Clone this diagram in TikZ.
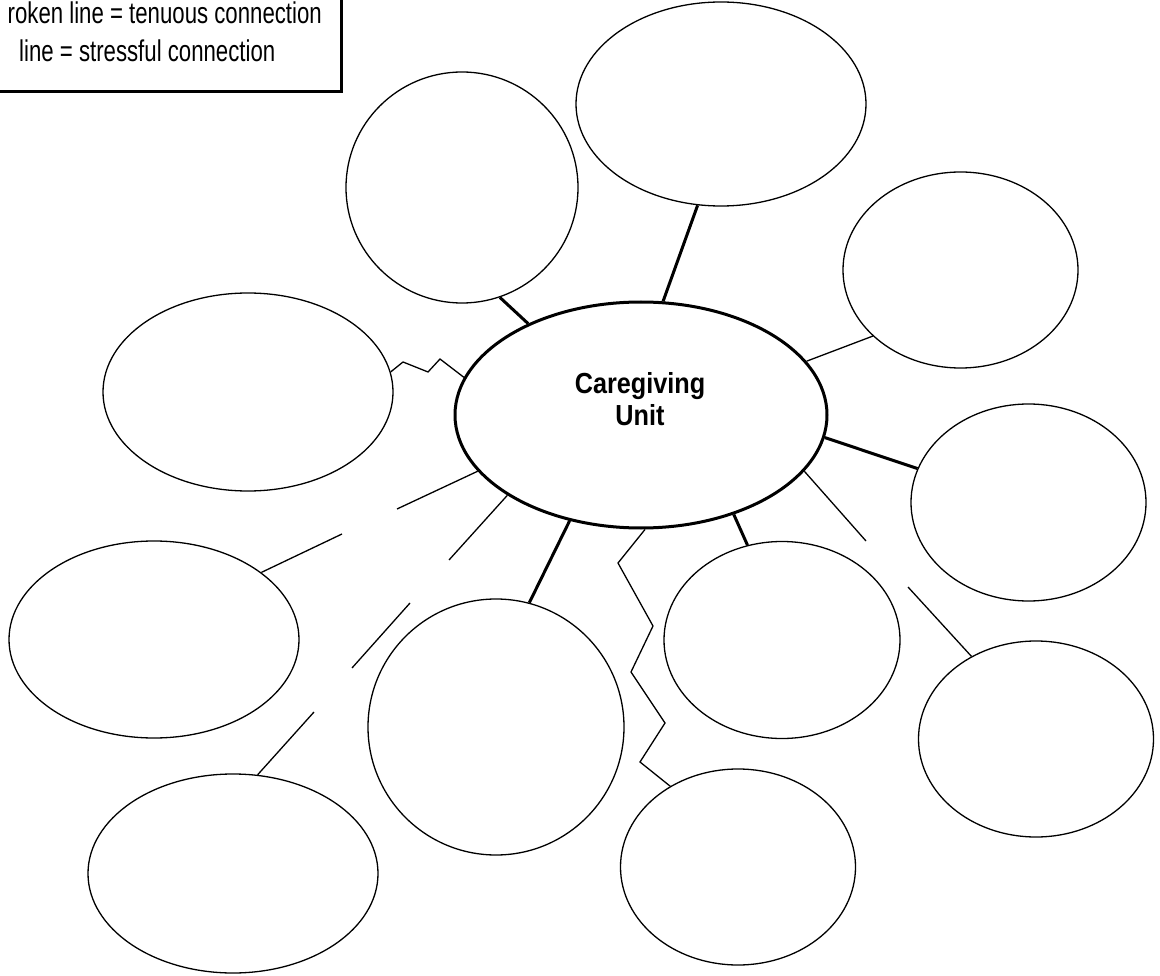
\documentclass[tikz,border=0pt]{standalone}
\usepackage{fontspec}
\setmainfont{Liberation Sans}
\newfontfamily\legendfont{Liberation Sans}[FakeStretch=0.74]
\newfontfamily\unitfont{Liberation Sans}[FakeStretch=0.87]
\usetikzlibrary{shapes.geometric}
\tikzset{
  bubble/.style={draw=black, ellipse, line width=1.3pt, inner sep=0pt, fill=white},
  thinlink/.style={draw=black, line width=1.3pt, line join=miter},
  thicklink/.style={draw=black, line width=3pt},
  legendtext/.style={inner sep=0pt, font=\legendfont\fontsize{30}{36}\selectfont},
}
\begin{document}
\begin{tikzpicture}[x=1pt,y=-1pt]
\useasboundingbox (0,0) rectangle (1160,976);
\clip (0,0) rectangle (1160,976);
% legend
\draw[line width=3pt] (-30,-30) rectangle (341.5,91.5);
\node[legendtext, anchor=base east] (leg1) at (322,24) {roken line = tenuous connection};
\node[legendtext, anchor=base west] (leg2) at (19,62) {line = stressful connection};
% bubbles
\node[bubble, line width=3pt, minimum width=372pt, minimum height=226pt] (C) at (641,415) {};
\node[inner sep=0pt, align=center, font=\unitfont\bfseries\fontsize{29}{32}\selectfont] (Ctext) at (640,399) {Caregiving\\Unit};
\node[bubble, minimum width=290pt, minimum height=204pt] (E2) at (721,104) {};
\node[bubble, minimum width=232pt, minimum height=231pt] (E3) at (462,187.5) {};
\node[bubble, minimum width=235pt, minimum height=196pt] (E4) at (960.5,270) {};
\node[bubble, minimum width=290pt, minimum height=198pt] (E5) at (248,392) {};
\node[bubble, minimum width=235pt, minimum height=197pt] (E6) at (1028.5,502.5) {};
\node[bubble, minimum width=290pt, minimum height=197pt] (E7) at (154,639.5) {};
\node[bubble, minimum width=256pt, minimum height=256pt] (E8) at (496,727) {};
\node[bubble, minimum width=236pt, minimum height=197pt] (E9) at (782,640) {};
\node[bubble, minimum width=235pt, minimum height=196pt] (E10) at (1036,739) {};
\node[bubble, minimum width=290pt, minimum height=199pt] (E11) at (233,873.5) {};
\node[bubble, minimum width=235pt, minimum height=196pt] (E12) at (738,867) {};
% free ends of broken lines
\coordinate (b10a) at (866,541);
\coordinate (b10b) at (908,587);
\coordinate (b11a) at (449,560);
\coordinate (b11b) at (410,603);
\coordinate (b11c) at (352,668);
\coordinate (b11d) at (314,712);
\coordinate (b7a) at (397,509);
\coordinate (b7b) at (342,534);
% solid lines
\draw[thicklink] (C.141.2) -- (E3.-71.2);
\draw[thicklink] (C.79.9) -- (E2.257.9);
\draw[thinlink] (C.18.6) -- (E4.217.6);
\draw[thicklink] (C.-7.7) -- (E6.163.6);
\draw[thicklink] (C.-47.9) -- (E9.110.2);
\draw[thicklink] (C.236.4) -- (E8.75.2);
% broken lines
\draw[thinlink] (C.-19.4) -- (b10a);
\draw[thinlink] (b10b) -- (E10.128.7);
\draw[thinlink] (C.211) -- (b11a);
\draw[thinlink] (b11b) -- (b11c);
\draw[thinlink] (b11d) -- (E11.76.3);
\draw[thinlink] (C.199.2) -- (b7a);
\draw[thinlink] (b7b) -- (E7.32);
% zigzag lines
\draw[thinlink] (C.-88) -- (618,563) -- (653,626) -- (631,672) -- (665,723) -- (640,762) -- (E12.130.4);
\draw[thinlink] (C.168.1) -- (440,359) -- (428,372) -- (403,362) -- (E5.8.6);
\end{tikzpicture}
\end{document}
